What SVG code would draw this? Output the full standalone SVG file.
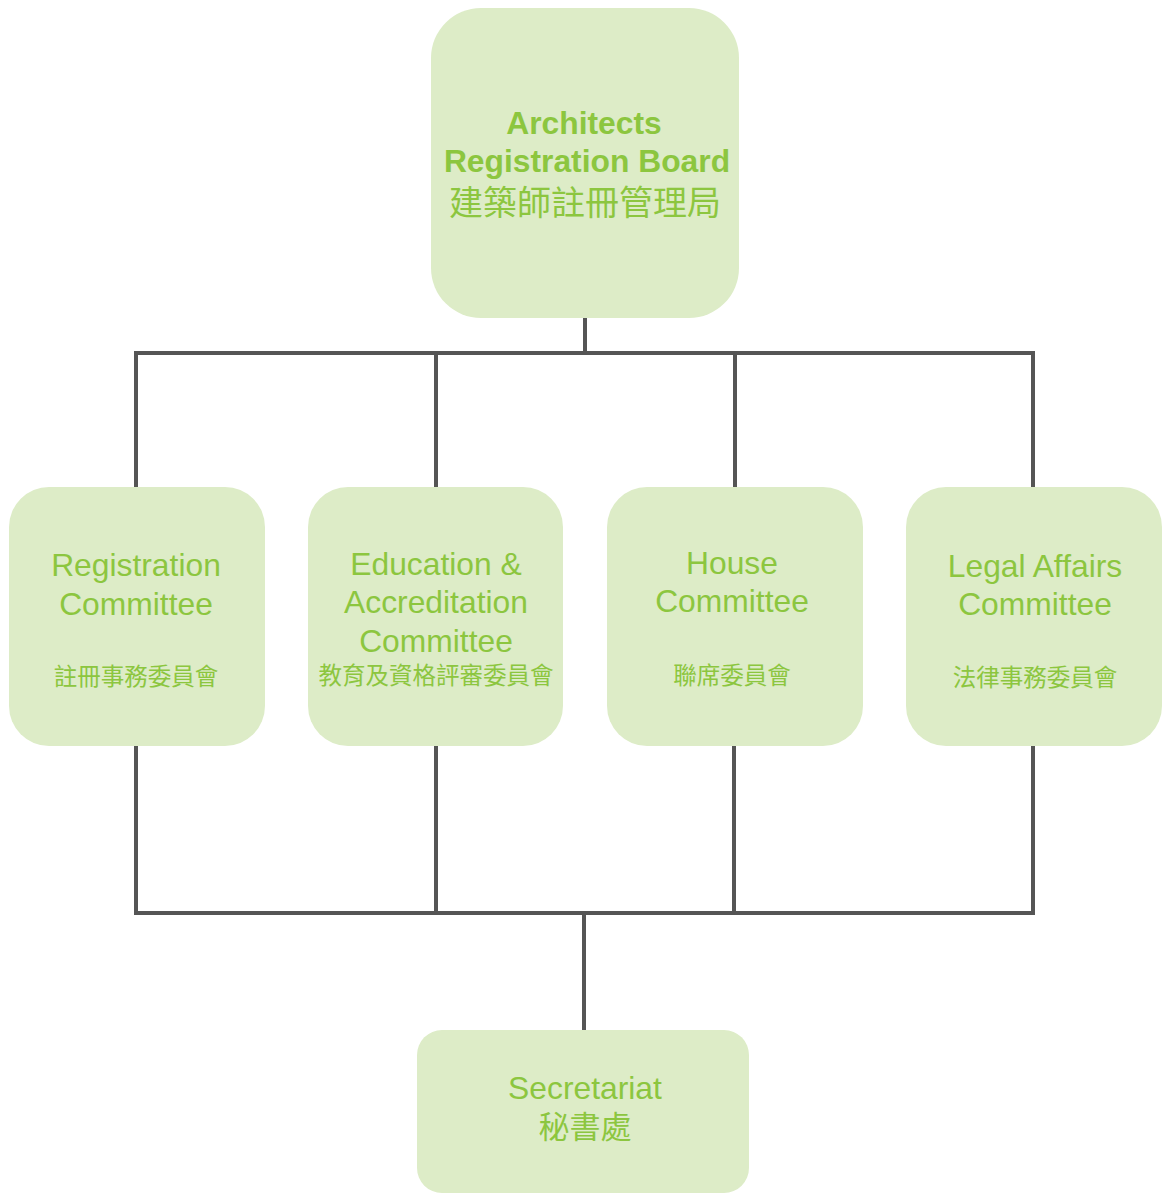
<svg xmlns="http://www.w3.org/2000/svg" width="1162" height="1193" viewBox="0 0 1162 1193">
<style>
.box{fill:#ddecc7}
.t{fill:#8cc63f;font-family:"Liberation Sans","Noto Sans CJK TC",Arial,sans-serif;text-anchor:middle}
.en{font-size:31.8px}
.b{font-weight:bold}
.cj{font-family:"Noto Sans CJK TC","Liberation Sans",sans-serif;font-size:23.5px}
.conn{fill:none;stroke:#555555;stroke-width:4}
</style>
<rect width="1162" height="1193" fill="#ffffff"/>
<g id="connectors" class="conn">
<path d="M585 318V353"/>
<path d="M136 487V353H1033V487"/>
<path d="M436 353V487"/>
<path d="M735 353V487"/>
<path d="M136 746V913H1033V746"/>
<path d="M436 746V913"/>
<path d="M734 746V913"/>
<path d="M584 913V1030"/>
</g>
<g id="board">
<rect class="box" x="431" y="8" width="308" height="310" rx="50"/>
<text class="t en b" x="584" y="134">Architects</text>
<text class="t en b" x="587" y="172">Registration Board</text>
<text class="t cj" x="585" y="215" style="font-size:34px">建築師註冊管理局</text>
</g>
<g id="registration">
<rect class="box" x="9" y="487" width="256" height="259" rx="40"/>
<text class="t en" x="136" y="576">Registration</text>
<text class="t en" x="136" y="615">Committee</text>
<text class="t cj" x="136" y="685">註冊事務委員會</text>
</g>
<g id="education">
<rect class="box" x="308" y="487" width="255" height="259" rx="40"/>
<text class="t en" x="436" y="575">Education &amp;</text>
<text class="t en" x="436" y="613">Accreditation</text>
<text class="t en" x="436" y="652">Committee</text>
<text class="t cj" x="436" y="684">教育及資格評審委員會</text>
</g>
<g id="house">
<rect class="box" x="607" y="487" width="256" height="259" rx="40"/>
<text class="t en" x="732" y="574">House</text>
<text class="t en" x="732" y="612">Committee</text>
<text class="t cj" x="732" y="684">聯席委員會</text>
</g>
<g id="legal">
<rect class="box" x="906" y="487" width="256" height="259" rx="40"/>
<text class="t en" x="1035" y="577">Legal Affairs</text>
<text class="t en" x="1035" y="615">Committee</text>
<text class="t cj" x="1035" y="686">法律事務委員會</text>
</g>
<g id="secretariat">
<rect class="box" x="417" y="1030" width="332" height="163" rx="25"/>
<text class="t en" x="585" y="1099">Secretariat</text>
<text class="t cj" x="585" y="1138" style="font-size:31px">秘書處</text>
</g>
</svg>
